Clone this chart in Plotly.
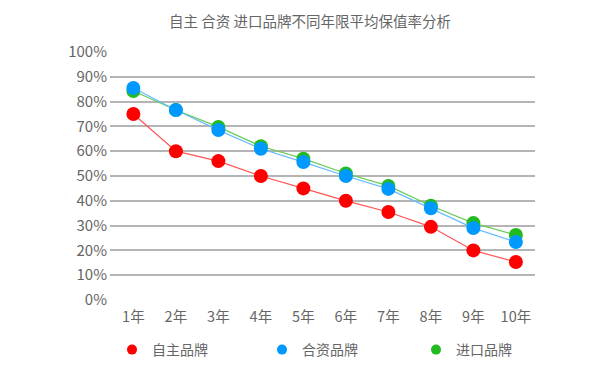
import plotly.graph_objects as go

years = ["1年", "2年", "3年", "4年", "5年", "6年", "7年", "8年", "9年", "10年"]
domestic = [75, 60, 56, 50, 45, 40, 35.5, 29.5, 20, 15.3]
joint = [85.5, 76.6, 68.5, 61, 55.6, 50, 44.8, 37, 29, 23.4]
imported = [84.3, 76.6, 69.8, 62, 57, 51, 46, 38, 31, 26.2]

names = ["自主品牌", "合资品牌", "进口品牌"]
marker_colors = ["#ff0000", "#0099ff", "#22bb22"]
line_colors = ["#ff5555", "#66bbff", "#66cc55"]
series = [domestic, joint, imported]
legend_ids = ["legend", "legend2", "legend3"]
legend_left = [112, 262, 416]

FONT = "Noto Sans CJK SC, Microsoft YaHei, sans-serif"

fig = go.Figure()
# draw order: green, blue, red (blue over green)
for i in [2, 1, 0]:
    fig.add_trace(go.Scatter(
        x=years, y=series[i], mode="lines+markers", name=names[i],
        line=dict(color=line_colors[i], width=1.2),
        marker=dict(color=marker_colors[i], size=14),
        showlegend=False,
    ))
for i in range(3):
    fig.add_trace(go.Scatter(
        x=[None], y=[None], mode="markers", name=names[i],
        marker=dict(color=marker_colors[i], size=10),
        showlegend=True, legend=legend_ids[i],
    ))

legend_common = dict(orientation="h", xref="container", yref="container",
                     xanchor="left", y=1 - 350 / 375, yanchor="middle",
                     font=dict(family=FONT, size=14, color="#666666"), itemwidth=30,
                     bgcolor="rgba(0,0,0,0)")

fig.update_layout(
    width=600, height=375,
    paper_bgcolor="white", plot_bgcolor="white",
    margin=dict(l=110, r=65, t=52, b=75, autoexpand=False),
    title=dict(text="自主 合资 进口品牌不同年限平均保值率分析", x=310 / 600, xanchor="center",
               xref="container", y=1 - 22 / 375, yref="container", yanchor="middle",
               font=dict(family=FONT, size=14.5, color="#666666")),
    font=dict(family=FONT, size=14, color="#666666"),
    xaxis=dict(type="category", range=[-0.55, 9.45], showgrid=False, zeroline=False,
               showline=False, ticks="", ticklabelstandoff=6,
               tickfont=dict(size=14.5, color="#666666")),
    yaxis=dict(range=[0, 100], dtick=10, ticksuffix="%", showgrid=True,
               gridcolor="#b4b4b4", gridwidth=1.5, zeroline=False, showline=False,
               ticks="", ticklabelstandoff=2, tickfont=dict(size=15, color="#666666")),
    legend=dict(legend_common, x=legend_left[0] / 600),
    legend2=dict(legend_common, x=legend_left[1] / 600),
    legend3=dict(legend_common, x=legend_left[2] / 600),
    showlegend=True,
)

fig.write_html("out.html", config={"displayModeBar": False},
               post_script="document.body.style.margin='0';")
